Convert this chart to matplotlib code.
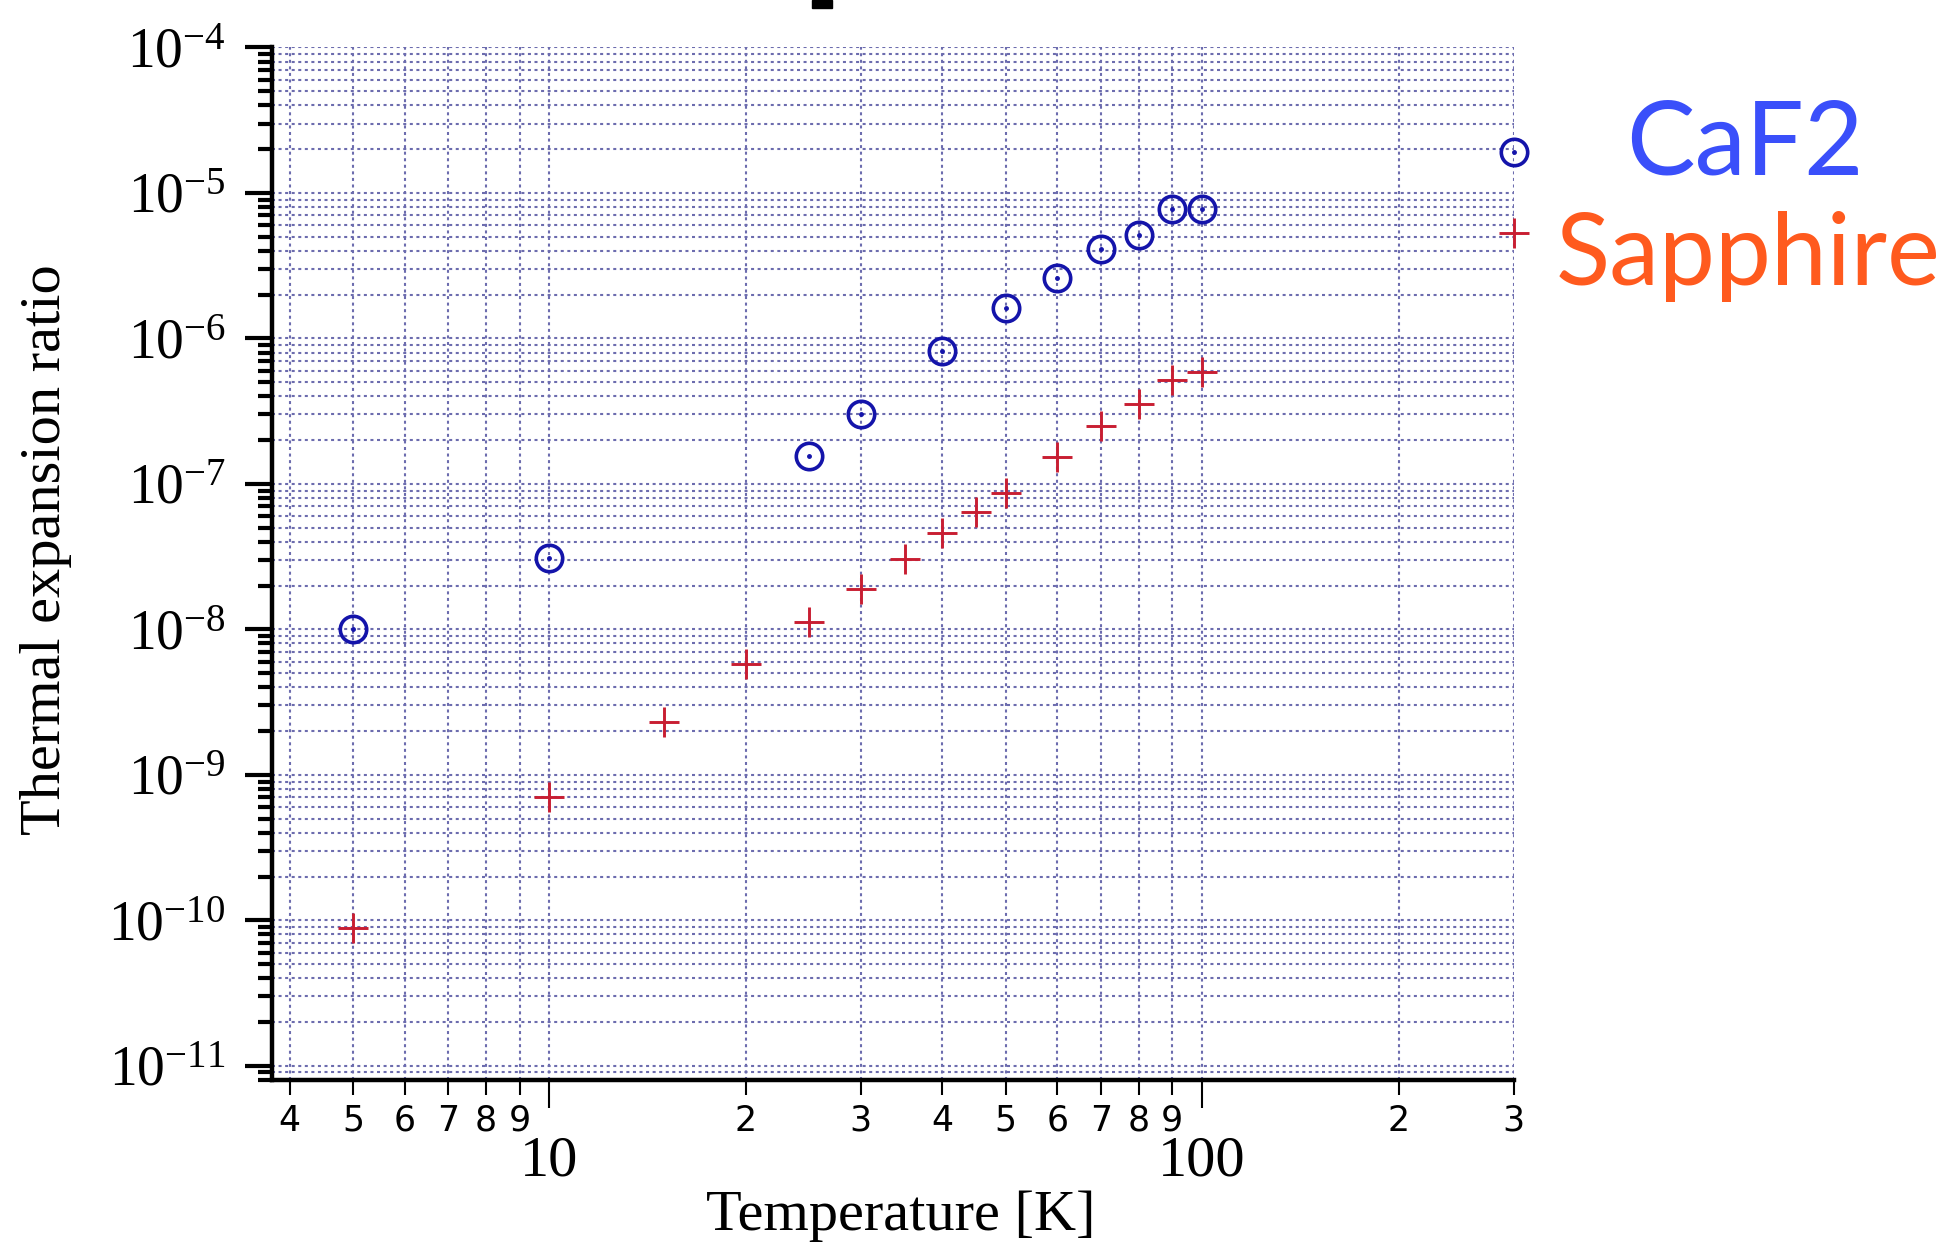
#!/usr/bin/env python3
# -*- coding: utf-8 -*-
"""
Thermal expansion ratio of CaF2 and sapphire vs temperature (log-log).
"""
import numpy as np
import matplotlib
matplotlib.use("Agg")
import matplotlib.pyplot as plt
from matplotlib import font_manager
from matplotlib.patches import Rectangle

# temperatures [K] and thermal expansion ratio
caf2_T = [5, 10, 25, 30, 40, 50, 60, 70, 80, 90, 100, 300]
caf2_ratio = [1.0e-8, 3.1e-8, 1.55e-7, 3.0e-7, 8.2e-7, 1.63e-6, 2.6e-6,
              4.1e-6, 5.1e-6, 7.8e-6, 7.8e-6, 1.9e-5]

sapph_T = [5, 10, 15, 20, 25, 30, 35, 40, 45, 50, 60, 70, 80, 90, 100, 300]
sapph_ratio = [8.9e-11, 7.1e-10, 2.3e-9, 5.8e-9, 1.12e-8, 1.9e-8, 3.05e-8,
               4.6e-8, 6.4e-8, 8.7e-8, 1.52e-7, 2.5e-7, 3.55e-7, 5.2e-7,
               5.9e-7, 5.3e-6]

x_major = [10, 100]
x_minor = [4, 5, 6, 7, 8, 9, 20, 30, 40, 50, 60, 70, 80, 90, 200, 300]
y_exponents = list(range(-11, -3))


def main():
    names = {f.name for f in font_manager.fontManager.ttflist}
    digit_font = "Liberation Sans Narrow" if "Liberation Sans Narrow" in names \
        else "DejaVu Sans"
    serif = "Liberation Serif"
    legend_font = "Lato" if "Lato" in names else "DejaVu Sans"

    plt.rcParams["mathtext.fontset"] = "custom"
    plt.rcParams["mathtext.rm"] = serif
    plt.rcParams["mathtext.default"] = "regular"

    grid_col = "#6c6cae"
    fig = plt.figure(figsize=(19.58, 12.49), dpi=100)
    ax = fig.add_axes([0.139, 0.135, 0.634, 0.827])

    ax.set_xscale("log")
    ax.set_yscale("log")
    ax.set_xlim(3.76, 300)
    ax.set_ylim(10 ** -11.1, 1e-4)

    # grid first (under the markers)
    ax.set_axisbelow(True)

    ax.plot(caf2_T, caf2_ratio, linestyle="none", marker="o", ms=19,
            mfc="none", mec="#1414aa", mew=2.6, clip_on=False, zorder=5)
    ax.plot(caf2_T, caf2_ratio, linestyle="none", marker="o", ms=2.5,
            mfc="#1414aa", mec="#1414aa", clip_on=False, zorder=5)
    ax.plot(sapph_T, sapph_ratio, linestyle="none", marker="+", ms=22,
            mec="#c81e32", mew=2.1, clip_on=False, zorder=5)

    # ticks
    ax.set_xticks(x_major, [str(v) for v in x_major], fontfamily=serif,
                  fontsize=42)
    ax.set_xticks(x_minor, [str(int(str(v)[0])) for v in x_minor], minor=True,
                  fontfamily=digit_font, fontsize=25)
    y_major = [10.0 ** e for e in y_exponents]
    ax.set_yticks(y_major, [r"$\mathregular{10^{%d}}$" % e for e in y_exponents],
                  fontfamily=serif, fontsize=40)
    ax.yaxis.set_minor_locator(matplotlib.ticker.LogLocator(
        base=10, subs=np.arange(2, 10), numticks=30))
    ax.yaxis.set_minor_formatter(matplotlib.ticker.NullFormatter())
    ax.set_ylim(10 ** -11.1, 1e-4)

    ax.tick_params(axis="x", which="major", length=20, width=1.5, pad=20,
                   color="black")
    ax.tick_params(axis="x", which="minor", length=11, width=1.5, pad=6,
                   color="black")
    ax.tick_params(axis="y", which="major", length=19.5, width=3, pad=14)
    ax.tick_params(axis="y", which="minor", length=10, width=3)

    ax.grid(True, which="both", color=grid_col, linestyle=(0, (1.45, 1.7)),
            linewidth=1.5)

    for side in ("top", "right"):
        ax.spines[side].set_visible(False)
    for side in ("left", "bottom"):
        ax.spines[side].set_linewidth(3.2)

    fig.text(46 / 1958, 0.560, "Thermal expansion ratio", rotation=90,
             ha="center", va="center", fontfamily=serif, fontsize=42)
    fig.text(0.460, 0.015, "Temperature [K]", ha="center", va="baseline",
             fontfamily=serif, fontsize=42)

    fig.text(0.891, 0.860, "CaF2", ha="center", va="baseline",
             fontfamily=legend_font, fontsize=74, color="#3a4ffa")
    fig.text(0.893, 0.772, "Sapphire", ha="center", va="baseline",
             fontfamily=legend_font, fontsize=72, color="#ff5a1e")

    # fragment of a cut-off title at the very top
    fig.patches.append(Rectangle((812 / 1958, 1 - 8 / 1249), 20 / 1958,
                                 8 / 1249, transform=fig.transFigure,
                                 color="black"))

    fig.savefig("out.png", dpi=100)


if __name__ == "__main__":
    main()
